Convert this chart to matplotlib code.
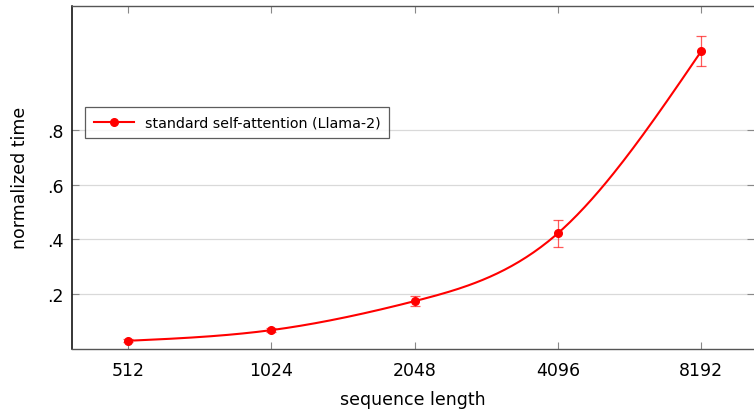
import numpy as np
import matplotlib
matplotlib.use("Agg")
import matplotlib.pyplot as plt

# data
seq_lengths = ["512", "1024", "2048", "4096", "8192"]
norm_time = [0.029, 0.068, 0.174, 0.422, 1.087]
time_err = [0.006, 0.006, 0.017, 0.05, 0.055]
y_ticks = [0.2, 0.4, 0.6, 0.8]
y_tick_labels = [".2", ".4", ".6", ".8"]


def smooth_curve(xs, ys, n=60):
    """natural cubic spline through the points, for a smooth line"""
    xs = np.asarray(xs, float)
    ys = np.asarray(ys, float)
    k = len(xs)
    h = np.diff(xs)
    A = np.zeros((k, k))
    b = np.zeros(k)
    A[0, 0] = A[-1, -1] = 1
    for i in range(1, k - 1):
        A[i, i - 1] = h[i - 1]
        A[i, i] = 2 * (h[i - 1] + h[i])
        A[i, i + 1] = h[i]
        b[i] = 6 * ((ys[i + 1] - ys[i]) / h[i] - (ys[i] - ys[i - 1]) / h[i - 1])
    M = np.linalg.solve(A, b)
    out_x, out_y = [], []
    for i in range(k - 1):
        t = np.linspace(xs[i], xs[i + 1], n)
        a = (xs[i + 1] - t) / h[i]
        c = (t - xs[i]) / h[i]
        s = (a * ys[i] + c * ys[i + 1]
             + ((a ** 3 - a) * M[i] + (c ** 3 - c) * M[i + 1]) * h[i] ** 2 / 6)
        out_x.extend(t)
        out_y.extend(s)
    return out_x, out_y


plt.rcParams['font.family'] = ['DejaVu Sans']

fig = plt.figure(figsize=(7.54, 4.14), dpi=100)
ax = fig.add_axes([0.0951, 0.1553, 0.905, 0.8277])

x = np.arange(len(seq_lengths))
sx, sy = smooth_curve(x, norm_time)
ax.plot(sx, sy, color='red', lw=1.5, zorder=3)
ax.errorbar(x, norm_time, yerr=time_err, fmt='none', ecolor='red', alpha=0.65,
            elinewidth=0.9, capsize=3.6, capthick=0.9, zorder=3)
ax.plot(x, norm_time, 'o', color='red', ms=5.5, zorder=4)

# legend proxy
ax.plot([], [], '-o', color='red', lw=1.5, ms=5.5, label='standard self-attention (Llama-2)')
leg = ax.legend(loc='upper left', bbox_to_anchor=(0.0195, 0.705), fontsize=10.3,
                frameon=True, fancybox=False, handlelength=2.8, borderpad=0.6,
                borderaxespad=0)
leg.get_frame().set_edgecolor('#333333')
leg.get_frame().set_linewidth(0.9)

ax.set_xlim(-0.395, 4.37)
ax.set_ylim(0, 1.253)
ax.set_xticks(x)
ax.set_xticklabels(seq_lengths)
ax.set_yticks(y_ticks)
ax.set_yticklabels(y_tick_labels)
ax.grid(axis='y', color='#d9d9d9', lw=0.9)
ax.set_axisbelow(True)

ax.tick_params(axis='both', direction='in', color='#888888', labelsize=12.5,
               length=5, width=0.8, top=True, right=True)
ax.tick_params(axis='x', pad=9)
ax.tick_params(axis='y', pad=6)

ax.spines['left'].set_color('black')
ax.spines['left'].set_linewidth(1.1)
ax.spines['bottom'].set_color('#555555')
ax.spines['bottom'].set_linewidth(1.0)
ax.spines['top'].set_color('#555555')
ax.spines['top'].set_linewidth(1.0)
ax.spines['right'].set_visible(False)

ax.set_xlabel('sequence length', fontsize=12.5, labelpad=8)
ax.set_ylabel('normalized time', fontsize=12.5, labelpad=13)

fig.savefig('out.png', dpi=100)
